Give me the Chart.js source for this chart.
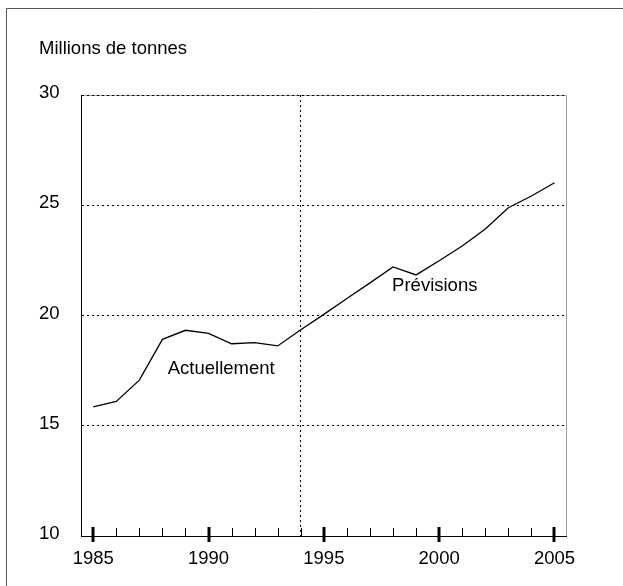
<!DOCTYPE html>
<html>
<head>
<meta charset="utf-8">
<script src="https://cdn.jsdelivr.net/npm/chart.js@4"></script>
<style>
  html, body { margin: 0; padding: 0; background: #fff; }
  #wrap { width: 623px; height: 586px; }
</style>
</head>
<body>
<div id="wrap"><canvas id="chart"></canvas></div>
<script>
// years on the x axis
const years = [1985, 1986, 1987, 1988, 1989, 1990, 1991, 1992, 1993, 1994, 1995,
  1996, 1997, 1998, 1999, 2000, 2001, 2002, 2003, 2004, 2005];
// millions de tonnes
const tonnes = [15.86, 16.1, 17.07, 18.92, 19.33, 19.19, 18.72, 18.77, 18.62, 19.35, 20.05,
  20.77, 21.48, 22.2, 21.84, 22.48, 23.15, 23.92, 24.89, 25.42, 26.02];
const yTicks = [10, 15, 20, 25, 30];
const splitYear = 1994;
const textLabels = ['Actuellement', 'Prévisions'];
const labelYears = [1988.23, 1997.96];
const labelValues = [17.56, 21.34];

const FONT = "'Liberation Sans', Arial, sans-serif";
const SIZE = 18.5;
Chart.defaults.font.family = FONT;
Chart.defaults.font.size = SIZE;
Chart.defaults.color = '#000';

// frame, inward tick marks and text labels
const decorations = {
  id: 'decorations',
  beforeDraw(chart) {
    const { ctx, chartArea: a } = chart;
    ctx.save();
    ctx.fillStyle = '#fff';
    ctx.fillRect(0, 0, chart.width, chart.height);
    ctx.strokeStyle = '#555';
    ctx.lineWidth = 1;
    ctx.beginPath();
    ctx.moveTo(6.5, chart.height);
    ctx.lineTo(6.5, 8.5);
    ctx.lineTo(chart.width, 8.5);
    ctx.stroke();
    // grey top and right edges of the plot
    ctx.strokeStyle = '#999';
    ctx.beginPath();
    ctx.moveTo(Math.round(a.left) + 0.5, Math.round(a.top) + 0.5);
    ctx.lineTo(Math.round(a.right) + 0.5, Math.round(a.top) + 0.5);
    ctx.lineTo(Math.round(a.right) + 0.5, Math.round(a.bottom) + 0.5);
    ctx.stroke();
    ctx.restore();
  },
  afterDraw(chart) {
    const { ctx, chartArea: a, scales } = chart;
    const x = scales.x, y = scales.y;
    const base = Math.round(a.bottom);
    ctx.save();
    ctx.strokeStyle = '#000';
    years.forEach(yr => {
      const px = Math.round(x.getPixelForValue(yr));
      const major = yr % 5 === 0;
      ctx.lineWidth = major ? 3 : 1;
      ctx.beginPath();
      ctx.moveTo(px + (major ? 0 : 0.5), base - (major ? 9 : 8));
      ctx.lineTo(px + (major ? 0 : 0.5), base + (major ? 6 : 0));
      ctx.stroke();
    });
    ctx.font = SIZE + 'px ' + FONT;
    ctx.fillStyle = '#000';
    ctx.textAlign = 'left';
    ctx.textBaseline = 'middle';
    textLabels.forEach((t, i) => {
      ctx.fillText(t, x.getPixelForValue(labelYears[i]), y.getPixelForValue(labelValues[i]));
    });
    ctx.restore();
  }
};

new Chart(document.getElementById('chart'), {
  type: 'line',
  data: {
    datasets: [{
      data: years.map((yr, i) => ({ x: yr, y: tonnes[i] })),
      borderColor: '#000',
      borderWidth: 1.3,
      pointRadius: 0,
      tension: 0,
      fill: false
    }]
  },
  options: {
    responsive: true,
    maintainAspectRatio: false,
    animation: false,
    layout: { padding: { left: 39, right: 57, top: 0, bottom: 0 } },
    plugins: {
      legend: { display: false },
      tooltip: { enabled: false },
      title: {
        display: true,
        text: 'Millions de tonnes',
        align: 'start',
        font: { size: SIZE, weight: 'normal' },
        color: '#000',
        padding: { top: 37.5, bottom: 35.3 }
      }
    },
    scales: {
      x: {
        type: 'linear',
        min: 1984.5,
        max: 2005.5,
        afterFit: s => { s.height = 50; },
        afterBuildTicks: s => { s.ticks = years.map(v => ({ value: v })); },
        ticks: {
          autoSkip: false,
          maxRotation: 0,
          padding: 12,
          callback: v => (v % 5 === 0 ? String(v) : '')
        },
        grid: {
          drawTicks: false,
          color: c => (c.tick && c.tick.value === splitYear ? '#000' : 'rgba(0,0,0,0)'),
          lineWidth: 1
        },
        border: { display: true, color: '#000', width: 1, dash: [2, 3] }
      },
      y: {
        min: 10,
        max: 30,
        afterFit: s => { s.width = 42.7; },
        afterBuildTicks: s => { s.ticks = yTicks.map(v => ({ value: v })); },
        ticks: {
          crossAlign: 'far',
          padding: 0,
          labelOffset: -2,
          callback: v => String(v)
        },
        grid: {
          drawTicks: false,
          color: c => (c.tick && c.tick.value > 10 ? '#000' : 'rgba(0,0,0,0)'),
          lineWidth: 1
        },
        border: { display: true, color: '#000', width: 1, dash: [2, 3] }
      }
    }
  },
  plugins: [decorations]
});
</script>
</body>
</html>
